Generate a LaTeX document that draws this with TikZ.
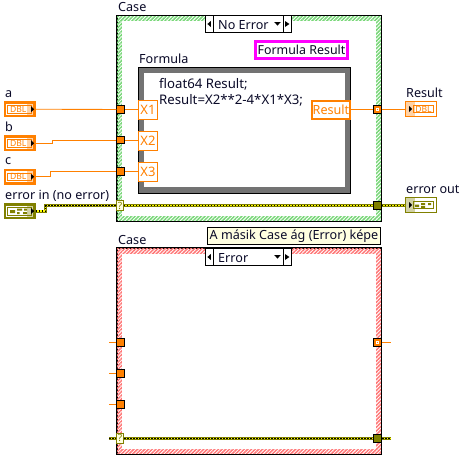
\documentclass[tikz,border=0pt]{standalone}
\usepackage{fontspec}
\setmainfont{Noto Sans}
\usepackage{xcolor}
\usetikzlibrary{arrows.meta, patterns.meta, positioning, calc}
\definecolor{dblorange}{RGB}{255,128,0}
\definecolor{errolive}{RGB}{128,128,0}
\definecolor{errgold}{RGB}{255,255,0}
\definecolor{notepink}{RGB}{255,0,255}
\definecolor{hatchgreen}{RGB}{120,215,120}
\definecolor{hatchred}{RGB}{255,120,120}
\definecolor{notecream}{RGB}{255,255,225}
\definecolor{txtnavy}{RGB}{10,10,40}

\begin{document}
\begin{tikzpicture}[x=1pt, y=-1pt,
  lbl/.style={font=\fontsize{12.6}{14}\selectfont, text=txtnavy, inner sep=0pt, anchor=base west},
  casebox/.style={draw=black, line width=0.9pt, minimum width=264pt, inner sep=0pt},
  selbox/.style={draw=black, fill=white, line width=0.9pt, inner sep=0pt, minimum height=17pt},
  ctrl/.style={draw=#1, line width=2.4pt, fill=white, minimum width=29.5pt, minimum height=13.5pt, inner sep=0pt},
  indi/.style={draw=#1, line width=1.1pt, fill=white, minimum width=30.5pt, minimum height=14.5pt, inner sep=0pt},
  dbltxt/.style={font=\fontsize{8.6}{9}\selectfont\bfseries, text=dblorange, inner sep=0pt},
  tun/.style={draw=black, line width=0.9pt, fill=dblorange, minimum size=7.4pt, inner sep=0pt},
  errtun/.style={draw=black, line width=0.9pt, fill=errolive, minimum size=7.4pt, inner sep=0pt},
  seltun/.style={draw=errolive, line width=0.9pt, fill=notecream, minimum width=6.8pt, minimum height=10.6pt, inner sep=0pt,
                 font=\fontsize{10}{10}\selectfont, text=errolive},
  fport/.style={draw=dblorange, fill=white, line width=0.9pt, minimum width=18.4pt, minimum height=18.6pt, inner sep=0pt,
                font=\fontsize{13}{14}\selectfont, text=dblorange},
  wire/.style={draw=dblorange, line width=0.9pt},
  errwire/.style={draw=errolive, line width=3pt, postaction={draw=errgold, line width=1.4pt},
                  postaction={draw=black, line width=1.4pt, dash pattern=on 1.5pt off 1.5pt}}
]
\useasboundingbox (0,0) rectangle (460,458);
\fill[white] (0,0) rectangle (460,458);

% upper case structure
\node[casebox, minimum height=205.4pt,
      postaction={pattern={Lines[angle=45, distance=2.6pt, line width=1.5pt]}, pattern color=hatchgreen}] (case1) at (249,118.3) {};
\fill[white] (122,21) rectangle (375.7,216);
\draw[black, line width=0.9pt] (case1.north west) rectangle (case1.south east);
\node[lbl] (case1lbl) at (118,11) {Case};
\node[selbox, minimum width=86.4pt] (sel1) at (248.5,24) {};
\node[selbox, minimum width=7.7pt] (sel1l) at (209.2,24) {};
\node[selbox, minimum width=8.4pt] (sel1r) at (287.5,24) {};
\fill[black] (210.8,21) -- (210.8,27) -- (207.4,24) -- cycle;
\fill[black] (285,21) -- (285,27) -- (289.4,24) -- cycle;
\fill[black] (274.2,22) -- (280.8,22) -- (277.5,25.6) -- cycle;
\node[lbl] (sel1txt) at (218,29) {No Error};
\node[draw=notepink, line width=2.6pt, fill=white, minimum width=92.5pt, minimum height=17pt, inner sep=0pt,
      font=\fontsize{12.4}{14}\selectfont, text=txtnavy] (fres) at (301.5,49.7) {Formula Result};

% formula node
\node[lbl] (formlbl) at (139,63) {Formula};
\node[draw=black!55, line width=5.8pt, fill=white, minimum width=206.5pt, minimum height=119.8pt, inner sep=0pt] (formula) at (244.6,130.3) {};
\draw[black, line width=0.5pt] (138.5,67.5) rectangle (350.7,193);
\node[lbl, font=\fontsize{13.2}{14}\selectfont] (code1) at (159,88) {float64 Result;};
\node[lbl, font=\fontsize{13.2}{14}\selectfont] (code2) at (159,104) {Result=X2**2-4*X1*X3;};
\node[fport] (x1) at (148,110) {X1};
\node[fport] (x2) at (148,141) {X2};
\node[fport] (x3) at (148,172) {X3};
\node[draw=dblorange, fill=white, line width=2pt, minimum width=37.5pt, minimum height=17.6pt, inner sep=0pt,
      font=\fontsize{12.6}{14}\selectfont, text=dblorange] (xres) at (331,109.7) {Result};

% tunnels
\node[tun] (tuna) at (120.6,109.5) {};
\node[tun] (tunb) at (120.6,140) {};
\node[tun] (tunc) at (120.6,171.5) {};
\node[tun] (tunr) at (377.5,109.5) {};
\node[draw=white, line width=0.6pt, fill=dblorange, minimum size=2pt, inner sep=0pt] (tunrdot) at (377.5,109.5) {};
\node[seltun] (errsel) at (120,205.5) {?};
\node[errtun] (errout) at (377.5,205.5) {};

% front panel terminals
\foreach \nm/\txt/\yy in {ctrla/a/109.2, ctrlb/b/143.2, ctrlc/c/176.8} {
  \node[ctrl=dblorange] (\nm) at (19.8,\yy) {};
  \node[lbl] (\nm lbl) at (5,\yy-12) {\txt};
  \node[dbltxt] (\nm txt) at (18.3,\yy) {DBL};
  \draw[dblorange, line width=0.8pt] (7.5,\yy-3.8) rectangle (31.5,\yy+3.8);
  \fill[dblorange, opacity=0.35] (27,\yy-5.8) rectangle (34.5,\yy+5.8);
  \fill[black] (31,\yy-3) -- (34.2,\yy) -- (31,\yy+3) -- cycle;
}
\node[ctrl=errolive] (ctrle) at (19.8,211.1) {};
\node[lbl] (ctrlelbl) at (5,199) {error in (no error)};
\draw[errolive, line width=0.8pt] (7.5,207.3) rectangle (31.5,215);
\fill[errolive] (10,210) rectangle (15,213) (17,208.5) rectangle (22,210.5) (24,208.5) rectangle (27,210.5) (17,212) rectangle (19.5,214) (23,212) rectangle (27,214);
\fill[errolive, opacity=0.35] (27,205.3) rectangle (34.5,216.9);
\fill[black] (31,208.1) -- (34.2,211.1) -- (31,214.1) -- cycle;

\node[lbl] (indrlbl) at (406,97) {Result};
\node[indi=dblorange] (indr) at (421,109) {};
\node[dbltxt] (indrtxt) at (423.5,109) {DBL};
\draw[dblorange, line width=0.8pt] (413,105.3) rectangle (433.5,112.7);
\fill[dblorange, opacity=0.35] (406,102) rectangle (415,116);
\fill[black] (409,106) -- (412.2,109) -- (409,112) -- cycle;
\node[lbl] (indelbl) at (406,193.5) {error out};
\node[indi=errolive] (inde) at (421,205) {};
\draw[errolive, line width=0.8pt] (413,201.3) rectangle (433.5,208.7);
\fill[errolive] (415,204.5) rectangle (419,207) (421,203) rectangle (425,205) (428,203) rectangle (431,205) (421,206) rectangle (425,208);
\fill[errolive, opacity=0.35] (406,198) rectangle (415,212);
\fill[black] (409,202) -- (412.2,205) -- (409,208) -- cycle;

% wires
\draw[wire] (ctrla.east) -- (tuna.west);
\draw[wire] (ctrlb.east) -- ++(17,0) |- (tunb.west);
\draw[wire] (ctrlc.east) -- ++(15,0) |- (tunc.west);
\draw[wire] (tuna.east) -- (tuna.east -| x1.west);
\draw[wire] (tunb.east) -- (tunb.east -| x2.west);
\draw[wire] (tunc.east) -- (tunc.east -| x3.west);
\draw[wire] (xres.east |- tunr.west) -- (tunr.west);
\draw[wire] (tunr.east) -- (tunr.east -| indr.west);
\draw[errwire] (ctrle.east) -- ++(10,0) |- (errsel.west);
\draw[errwire] (errsel.east) -- (errout.west);
\draw[errwire] (errout.east) -- (errout.east -| inde.west);

% lower case structure
\node[casebox, minimum height=206pt,
      postaction={pattern={Lines[angle=45, distance=2.6pt, line width=1.5pt]}, pattern color=hatchred}] (case2) at (249,351.3) {};
\fill[white] (122,254) rectangle (375.7,449);
\draw[black, line width=0.9pt] (case2.north west) rectangle (case2.south east);
\node[lbl] (case2lbl) at (118,244) {Case};
\node[draw=black, fill=notecream, line width=0.9pt, minimum width=173.4pt, minimum height=17.4pt, inner sep=0pt,
      font=\fontsize{12.6}{14}\selectfont, text=txtnavy] (note) at (294,236) {A másik Case ág (Error) képe};
\node[selbox, minimum width=86.4pt] (sel2) at (248.5,257) {};
\node[selbox, minimum width=7.7pt] (sel2l) at (209.2,257) {};
\node[selbox, minimum width=8.4pt] (sel2r) at (287.5,257) {};
\fill[black] (210.8,254) -- (210.8,260) -- (207.4,257) -- cycle;
\fill[black] (285,254) -- (285,260) -- (289.4,257) -- cycle;
\fill[black] (274.2,255) -- (280.8,255) -- (277.5,258.6) -- cycle;
\node[lbl] (sel2txt) at (218,262) {Error};

% stubs of the lower case
\coordinate (stubl1) at (109,342.5);
\coordinate (stubl2) at (109,373.5);
\coordinate (stubl3) at (109,404.5);
\coordinate (stubr) at (391,342.5);
\coordinate (stubel) at (109,438.3);
\coordinate (stuber) at (391,438.3);
\node[tun] (tun2a) at (120.6,342.5) {};
\node[tun] (tun2b) at (120.6,373.5) {};
\node[tun] (tun2c) at (120.6,404.5) {};
\node[tun] (tun2r) at (377.5,342.5) {};
\node[draw=white, line width=0.6pt, fill=dblorange, minimum size=2pt, inner sep=0pt] (tun2rdot) at (377.5,342.5) {};
\draw[wire] (stubl1) -- (tun2a.west);
\draw[wire] (stubl2) -- (tun2b.west);
\draw[wire] (stubl3) -- (tun2c.west);
\draw[wire] (tun2r.east) -- (stubr);
\draw[errwire] (stubel) -- (stuber);
\node[seltun] (errsel2) at (120,438.3) {?};
\node[errtun] (errout2) at (377.5,438.3) {};
\end{tikzpicture}
\end{document}
